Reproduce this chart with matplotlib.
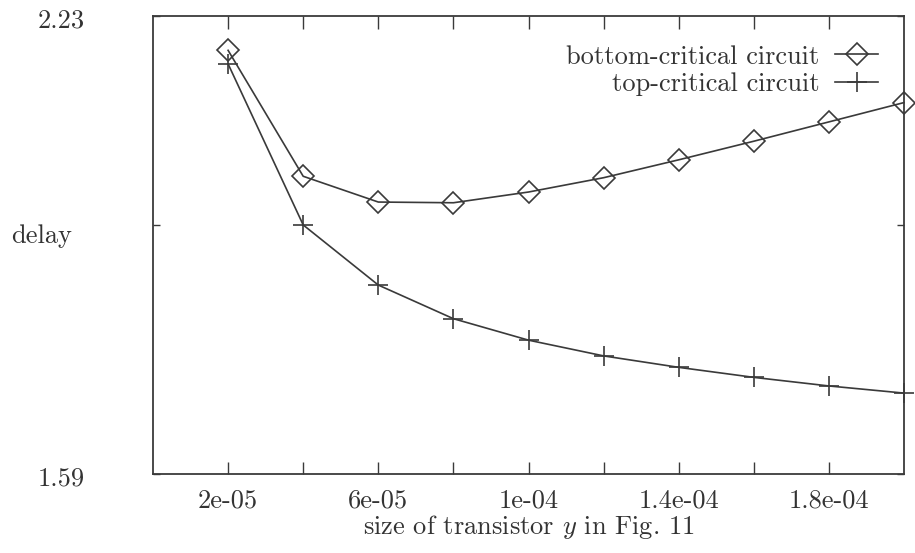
import matplotlib
matplotlib.use("Agg")
import matplotlib.pyplot as plt
from matplotlib.transforms import ScaledTranslation

plt.rcParams['font.family'] = ['cmr10', 'DejaVu Serif']
plt.rcParams['mathtext.fontset'] = 'cm'
plt.rcParams['axes.unicode_minus'] = False

# transistor size (x) and measured delay for both circuit variants
size_y = [2e-05, 4e-05, 6e-05, 8e-05, 1e-04, 1.2e-04, 1.4e-04, 1.6e-04, 1.8e-04, 2e-04]
bottom_critical = [2.182, 2.006, 1.970, 1.969, 1.984, 2.004, 2.029, 2.055, 2.082, 2.109]
top_critical = [2.163, 1.938, 1.854, 1.807, 1.777, 1.755, 1.739, 1.725, 1.713, 1.703]

x_ticks = [2e-05, 4e-05, 6e-05, 8e-05, 1e-04, 1.2e-04, 1.4e-04, 1.6e-04, 1.8e-04]
x_tick_labels = ['2e-05', '', '6e-05', '', '1e-04', '', '1.4e-04', '', '1.8e-04']
y_ticks = [1.59, 1.938, 2.23]
y_tick_labels = ['1.59', '', '2.23']

ink = '#3a3a3a'
fs = 19

fig = plt.figure(figsize=(9.15, 5.53), dpi=100)
ax = fig.add_axes([0.1672, 0.1429, 0.8208, 0.8282])

ax.plot(size_y, bottom_critical, color=ink, lw=1.2, marker='D', ms=11,
        mfc='none', mec=ink, mew=1.2, label='bottom-critical circuit', clip_on=False)
ax.plot(size_y, top_critical, color=ink, lw=1.2, marker='+', ms=14,
        mec=ink, mew=1.2, label='top-critical circuit', clip_on=False)

ax.set_xlim(0, 2e-04)
ax.set_ylim(1.59, 2.23)

ax.set_xticks(x_ticks)
ax.set_xticklabels(x_tick_labels)
ax.set_yticks(y_ticks)
ax.set_yticklabels(y_tick_labels)

ax.tick_params(axis='x', direction='in', top=True, length=9, width=1.0,
               color=ink, labelsize=fs, labelcolor='#333333', pad=11)
ax.tick_params(axis='y', direction='in', right=True, length=5, width=1.0,
               color=ink, labelsize=fs, labelcolor='#333333', pad=49)
# nudge the y tick labels a little below their ticks
shift = ScaledTranslation(0, -3 / 72, fig.dpi_scale_trans)
for tl in ax.get_yticklabels():
    tl.set_verticalalignment('center')
    tl.set_transform(tl.get_transform() + shift)

for s in ax.spines.values():
    s.set_color(ink)
    s.set_linewidth(1.3)

ax.set_xlabel('size of transistor $y$ in Fig. 11', fontsize=fs, color='#333333', labelpad=0)
ax.set_ylabel('delay', rotation=0, fontsize=fs, color='#333333')
ax.yaxis.set_label_coords(-0.148, 0.493)

ax.legend(loc='upper right', bbox_to_anchor=(0.979, 0.96), markerfirst=False,
          frameon=False, fontsize=fs, handlelength=1.6, handletextpad=0.6,
          labelspacing=0.15, borderaxespad=0, labelcolor='#333333')

fig.savefig('out.png', dpi=100)
